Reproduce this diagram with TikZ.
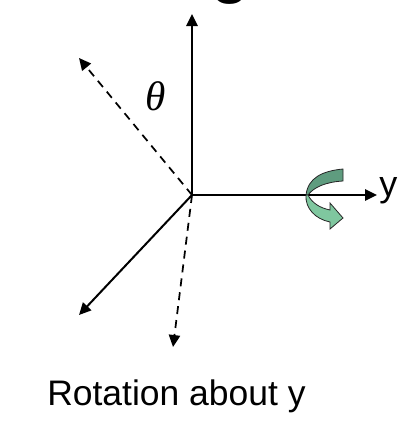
\documentclass[tikz,border=0pt]{standalone}
\usepackage{fontspec}
\setmainfont{Liberation Sans}
\newfontfamily\thetafont{Liberation Serif}
\usetikzlibrary{arrows.meta}
\definecolor{curlD}{HTML}{5F9C7F}
\definecolor{curlL}{HTML}{7FC79F}
\tikzset{
  axis/.style={line width=1.5pt,-{Triangle[length=9pt,width=8.5pt]}},
  dashaxis/.style={axis,line width=1.3pt,dash pattern=on 6pt off 4.5pt},
  curl/.style={draw=black!85,line width=0.6pt,line join=miter},
  lab/.style={inner sep=0pt,anchor=base west}
}
\begin{document}
\begin{tikzpicture}[x=0.75pt,y=-0.75pt]
\useasboundingbox (0,0) rectangle (418,432);
\coordinate (o) at (192,195);
\coordinate (up) at (192,14);
\coordinate (right) at (377,195);
\coordinate (dl) at (79,315);
\coordinate (ul) at (79,58);
\coordinate (dn) at (173,347);
\node[lab,font=\fontsize{54pt}{54pt}\selectfont] (title) at (210,-10) {g};
\draw[axis] (o) -- (up);
\draw[axis] (o) -- (right);
\draw[axis] (o) -- (dl);
\draw[dashaxis] (o) -- (ul);
\draw[dashaxis] (o) -- (dn);
\draw[curl,fill=curlD] (343,169) .. controls (322,171) and (308,178) .. (306,195)
  -- (308,195) .. controls (314,187) and (326,182) .. (343,181) -- cycle;
\draw[curl,fill=curlL] (306,195) .. controls (305,208) and (315,219) .. (330,222)
  -- (330,229) -- (343,218) -- (330,203) -- (330,210)
  .. controls (320,208) and (312,203) .. (308,195) -- cycle;
\node[lab,font=\fontsize{27pt}{27pt}\selectfont] (y) at (379,196) {y};
\node[lab,font=\fontsize{31pt}{31pt}\thetafont\itshape] (theta) at (145,110) {θ};
\node[lab,font=\fontsize{26.6pt}{26.6pt}\selectfont] (cap) at (47,405) {Rotation about y};
\end{tikzpicture}
\end{document}
